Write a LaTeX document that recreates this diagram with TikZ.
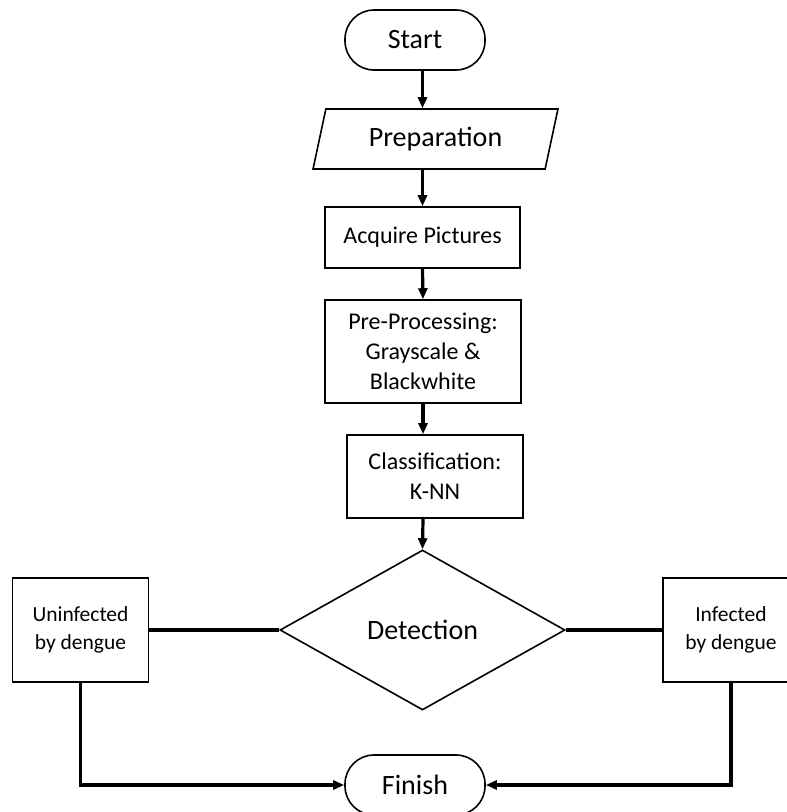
\documentclass[tikz,border=0pt]{standalone}
\usepackage{fontspec}
\setmainfont{Carlito}
\usetikzlibrary{arrows.meta,positioning,shapes.geometric}

\tikzset{
  term/.style={draw, line width=1.6pt, rounded corners=29pt, minimum width=140pt,
    minimum height=60pt, font=\fontsize{28}{32}\selectfont},
  procbox/.style={draw, line width=1.6pt, align=center, inner sep=0pt,
    font=\fontsize{24}{30}\selectfont},
  resbox/.style={draw, line width=1.6pt, align=center, inner sep=0pt,
    minimum width=136pt, minimum height=104pt, font=\fontsize{21.5}{27.5}\selectfont},
  conn/.style={line width=3.2pt},
  arr/.style={conn, -{Triangle[length=11pt,width=9pt]}}
}

\begin{document}
\begin{tikzpicture}[x=1pt, y=-1pt]
  \useasboundingbox (0,0) rectangle (787,812);

  % Flow down the middle
  \node[term] (start) at (415,40) {Start};
  \node[draw, line width=1.6pt, trapezium, trapezium left angle=75, trapezium right angle=105,
    trapezium stretches=true, minimum width=245pt, minimum height=60pt,
    font=\fontsize{28}{32}\selectfont] (prep) at (435.5,139) {Preparation};
  \node[procbox, minimum width=195pt, minimum height=61pt] (acq) at (422.5,237.5) {Acquire Pictures};
  \node[procbox, minimum width=196pt, minimum height=103pt] (pre) at (423,351.5)
    {Pre-Processing:\\Grayscale \&\\Blackwhite};
  \node[procbox, minimum width=176pt, minimum height=83pt] (cls) at (435,476.5)
    {Classification:\\K-NN};
  \node[draw, line width=1.6pt, diamond, aspect=1.8, inner sep=0pt, minimum width=285pt,
    minimum height=160pt, font=\fontsize{28}{32}\selectfont] (det) at (422.5,630) {Detection};

  % Outcomes
  \node[resbox] (uninf) at (80.5,630) {Uninfected\\by dengue};
  \node[resbox] (inf) at (731,630) {Infected\\by dengue};
  \node[term] (fin) at (415,785) {Finish};

  % Arrows
  \draw[arr] (start.south -| acq) -- (prep.north -| acq);
  \draw[arr] (prep.south -| acq) -- (acq.north);
  \draw[arr] (acq.south) -- (pre.north);
  \draw[arr] (pre.south) -- (cls.north -| pre);
  \draw[arr] (cls.south -| pre) -- (det.north);

  % Branches
  \draw[conn] (uninf.east) -- (det.west);
  \draw[conn] (det.east) -- (inf.west);
  \draw[arr] (uninf.south) |- (fin.west);
  \draw[arr] (inf.south) |- (fin.east);
\end{tikzpicture}
\end{document}
